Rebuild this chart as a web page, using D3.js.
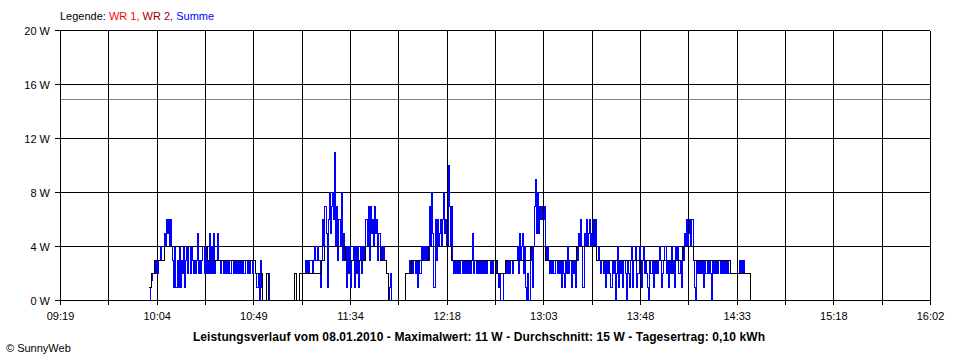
<!DOCTYPE html>
<html><head><meta charset="utf-8">
<script src="https://cdn.jsdelivr.net/npm/d3@7"></script>
<style>
html,body{margin:0;padding:0;background:#fff;}
svg{display:block;}
text{font-family:"Liberation Sans",Arial,sans-serif;font-size:11px;fill:#000;}
</style></head>
<body>
<script>
// ---- data ----
const xStart = "09:19", xEnd = "16:02";
const xTickLabels = ["09:19","10:04","10:49","11:34","12:18","13:03","13:48","14:33","15:18","16:02"];
const yTicks = [0,4,8,12,16,20];
const yUnit = "W";
const averageValue = 14.9;
const legendItems = [
  {label:"WR 1,", color:"#ff0000"},
  {label:"WR 2,", color:"#a00000"},
  {label:"Summe", color:"#0000ff"}
];
const titleText = "Leistungsverlauf vom 08.01.2010 - Maximalwert: 11 W - Durchschnitt: 15 W - Tagesertrag: 0,10 kWh";
const footerText = "\u00a9 SunnyWeb";

// Summe: one value every 30 s starting 10:00:00
const summeStart = "10:00:00";
const summeStepSeconds = 30;
const summeValues = [
 0,1,1.5,2,2,3,2,3,2,3,
 3,4,3,3,5,4,6,5,6,4,
 6,4,3,1,4,1,3,1,4,1,
 3,2,4,1,3,4,2,4,2,4,
 3,2,3,2,3,5,2,3,2,3,
 4,2,4,2,3,2,5,2,4,2,
 5,2,3,5,3,3,2,3,3,2,
 3,2,3,2,3,2,3,3,2,3,
 2,3,2,3,2,3,2,3,2,3,
 3,2,3,2,3,3,2,3,3,2,
 1,2,0,3,1,0,0,0,0,2,
 2,2,0,0,0,0,0,0,0,0,
 0,0,0,0,0,0,0,0,0,0,
 0,0,0,0,0,2,2,0,0,2,
 2,2,2,2,2,3,2,3,2,3,
 3,2,3,4,3,3,4,3,3,1,
 3,6,4,7,5,1,6,8,5,7,
 8,6,11,4,7,3,6,4,8,3,
 5,3,4,1,4,2,4,1,3,4,
 1,4,2,4,1,3,4,2,4,3,
 4,6,4,7,3,7,5,6,4,7,
 5,6,3,5,3,4,3,4,3,3,
 2,2,0,1,2,0,0,0,0,0,
 0,0,0,0,0,0,0,0,2,2,
 2,3,2,3,2,3,3,2,3,1,
 3,2,4,3,4,3,4,3,4,3,
 7,4,8,5,1,6,3,6,4,5,
 6,4,6,8,5,6,4,10,7,4,
 7,3,2,3,2,3,2,3,2,3,
 2,3,2,3,2,3,2,3,2,3,
 5,2,3,2,3,2,3,2,3,2,
 3,2,3,2,3,3,2,3,2,3,
 3,3,2,2,1,2,0,0,2,2,
 2,3,2,3,2,3,3,2,3,3,
 3,4,2,5,3,4,5,2,4,1,
 0,2,0,3,4,1,4,7,9,5,
 8,5,7,6,7,6,7,4,3,4,
 3,2,3,2,3,2,2,3,2,3,
 2,3,1,3,2,1,3,2,4,2,
 3,1,3,2,3,1,4,3,5,4,
 6,4,1,5,4,6,4,5,6,4,
 5,4,6,4,6,3,4,3,2,3,
 3,2,3,1,3,2,3,2,1,3,
 2,3,0,2,4,1,3,2,3,1,
 3,2,0,3,2,1,3,4,1,3,
 3,4,1,2,4,3,1,3,4,2,
 3,2,1,0,3,2,3,1,3,2,
 3,2,3,4,3,1,2,3,4,2,
 3,1,3,2,4,2,3,1,4,3,
 4,2,3,1,4,3,5,4,6,4,
 5,6,4,6,3,1,0,3,2,3,
 2,3,2,3,1,3,2,3,2,3,
 2,0,3,2,3,2,3,2,3,2,
 3,2,3,2,3,2,3,2,2,2,
 2,2,2,2,2,2,2,3,2,3,
 2,3,2,2,2,2,2,0
];

// second (black) step series: change times and values
const baseTimes = ["10:00:00","10:01:00","10:02:30","10:07:00","10:27:00","10:49:30","10:52:30","10:54:30","10:55:30",
  "11:07:30","11:08:30","11:09:30","11:20:00","11:21:30","11:31:00","11:40:30","11:47:00","11:50:00","11:51:00",
  "11:59:00","12:01:30","12:09:30","12:20:00","12:41:30","12:45:00","12:56:30","13:03:30","13:18:00","13:27:30",
  "14:07:00","14:12:00","14:29:30","14:38:30"];
const baseValues = [1,2,3,4,3,2,0,2,0,
  2,0,2,3,4,3,4,3,2,0,
  2,3,4,3,2,3,4,3,4,3,
  4,3,2,0];

// ---- drawing ----
const W = 960, H = 360;
const toMin = s => { const p = s.split(":").map(Number); return p[0]*60 + p[1] + (p[2]||0)/60; };
const x = d3.scaleLinear().domain([toMin(xStart), toMin(xEnd)]).range([60.5, 930.5]);
const y = d3.scaleLinear().domain([0, 20]).range([300.5, 30.5]);

const svg = d3.select("body").append("svg").attr("width", W).attr("height", H);

// legend
const lg = svg.append("text").attr("x", 60).attr("y", 20);
lg.append("tspan").text("Legende: ");
legendItems.forEach((d,i) => {
  lg.append("tspan").style("fill", d.color).text(d.label + (i < legendItems.length-1 ? " " : ""));
});

// average line
svg.append("line").attr("x1", 60).attr("x2", 930)
  .attr("y1", y(averageValue)).attr("y2", y(averageValue))
  .attr("stroke", "#808080").attr("shape-rendering","crispEdges");

// horizontal grid + y labels
yTicks.forEach(v => {
  svg.append("line").attr("x1", 55).attr("x2", 930).attr("y1", y(v)).attr("y2", y(v))
    .attr("stroke", "#000").attr("shape-rendering","crispEdges");
  svg.append("text").attr("x", 50).attr("y", y(v) + 4).attr("text-anchor","end").text(v + " " + yUnit);
});

// vertical grid (two lines per labelled interval)
const nGrid = (xTickLabels.length - 1) * 2;
const t0 = toMin(xStart), t1 = toMin(xEnd);
for (let i = 0; i <= nGrid; i++) {
  const t = t0 + (t1 - t0) * i / nGrid;
  svg.append("line").attr("x1", x(t)).attr("x2", x(t)).attr("y1", y(20)).attr("y2", 305)
    .attr("stroke", "#000").attr("shape-rendering","crispEdges");
}
xTickLabels.forEach((lab, i) => {
  const t = t0 + (t1 - t0) * i / (xTickLabels.length - 1);
  svg.append("text").attr("x", x(t)).attr("y", 320).attr("text-anchor","middle").text(lab);
});

// Summe series
const s0 = toMin(summeStart);
const summe = summeValues.map((v,i) => ({t: s0 + i*summeStepSeconds/60, v}));
const line = d3.line().x(d => x(d.t)).y(d => y(d.v)).curve(d3.curveStepAfter);
svg.append("path").datum(summe).attr("d", line)
  .attr("fill","none").attr("stroke","#0000ff").attr("stroke-width",1).attr("shape-rendering","crispEdges");

// base series
const base = baseTimes.map((s,i) => ({t: toMin(s), v: baseValues[i]}));
svg.append("path").datum(base).attr("d", line)
  .attr("fill","none").attr("stroke","#000").attr("stroke-width",1).attr("shape-rendering","crispEdges");

// title & footer
svg.append("text").attr("x", 479).attr("y", 341).attr("text-anchor","middle")
  .style("font-weight","bold").style("font-size","12px").style("letter-spacing","0.1px").text(titleText);
svg.append("text").attr("x", 6).attr("y", 352).text(footerText);
</script>
</body></html>
